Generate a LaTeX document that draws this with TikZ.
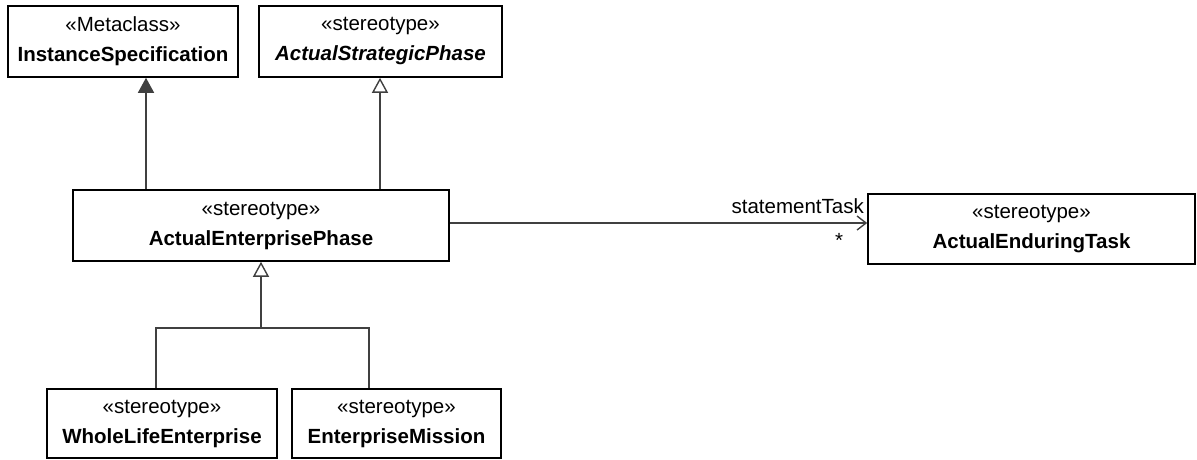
\documentclass[tikz,border=0pt]{standalone}
\usepackage{fontspec}
\setmainfont{Liberation Sans}
\usetikzlibrary{arrows.meta}
\definecolor{linegray}{HTML}{404040}
\tikzset{
  umlbox/.style={draw=black, line width=1.6pt, fill=white, align=center,
    inner sep=0pt, font=\fontsize{20.5}{30}\selectfont},
  conn/.style={draw=linegray, line width=1.5pt},
  genopen/.style={conn, -{Triangle[open, width=16pt, length=15pt, line width=1.4pt]}},
  genfill/.style={conn, -{Triangle[width=16pt, length=15pt, fill=linegray]}},
  assoc/.style={conn, -{Straight Barb[length=9pt, width=14pt, line width=1.4pt]}},
  lbl/.style={font=\fontsize{20.5}{24}\selectfont, inner sep=0pt}
}
\begin{document}
\begin{tikzpicture}[x=1pt, y=-1pt]
\useasboundingbox (0,0) rectangle (1197,460);
% boxes
\node[umlbox, minimum width=230pt, minimum height=71pt] (b1) at (123,41.5)
  {«Metaclass»\\\textbf{InstanceSpecification}};
\node[umlbox, minimum width=243pt, minimum height=71pt] (b2) at (380.5,41.5)
  {«stereotype»\\\textbf{\textit{ActualStrategicPhase}}};
\node[umlbox, minimum width=376pt, minimum height=71pt] (b3) at (261,225.5)
  {«stereotype»\\\textbf{ActualEnterprisePhase}};
\node[umlbox, minimum width=327pt, minimum height=70pt] (b4) at (1031.5,229)
  {«stereotype»\\\textbf{ActualEnduringTask}};
\node[umlbox, minimum width=230pt, minimum height=69pt] (b5) at (162,423.5)
  {«stereotype»\\\textbf{WholeLifeEnterprise}};
\node[umlbox, minimum width=209pt, minimum height=69pt] (b6) at (396.5,423.5)
  {«stereotype»\\\textbf{EnterpriseMission}};
% helper coordinates
\coordinate (x146) at (146,0);
\coordinate (x380) at (380,0);
\coordinate (x156) at (156,0);
\coordinate (x369) at (369,0);
\coordinate (j) at (261,328);
\coordinate (y223) at (0,223);
% generalizations
\draw[genfill] (b3.north -| x146) -- (b1.south -| x146);
\draw[genopen] (b3.north -| x380) -- (b2.south -| x380);
\draw[conn] (b5.north -| x156) |- (j);
\draw[conn] (b6.north -| x369) |- (j);
\draw[genopen] (j) -- (b3.south);
% association
\draw[assoc] (b3.east |- y223) -- (b4.west |- y223);
\node[lbl, anchor=south east] (role) at (864,214) {statementTask};
\node[lbl, anchor=north] (mult) at (839,233) {*};
\end{tikzpicture}
\end{document}
